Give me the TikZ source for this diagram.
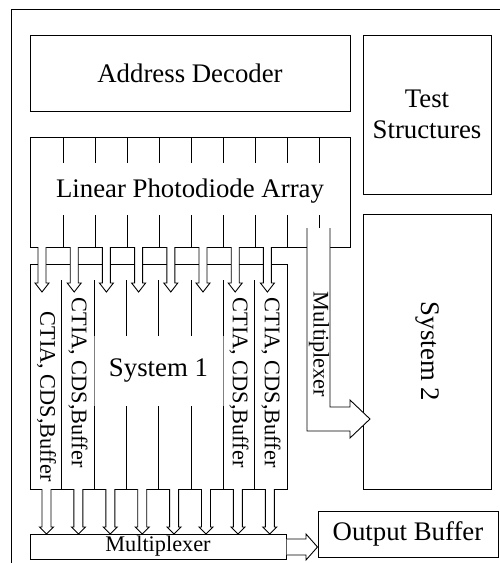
\documentclass[tikz,border=0pt]{standalone}
\usepackage{fontspec}
\setmainfont{Liberation Serif}
\begin{document}
\begin{tikzpicture}[x=1pt,y=-1pt,line join=miter,
  box/.style={draw,line width=1pt,inner sep=0pt},
  big/.style={font=\fontsize{26.8}{33}\selectfont},
  small/.style={font=\fontsize{22.3}{26}\selectfont},
  hollow/.style={draw,line width=0.9pt,fill=white},
  sep/.style={line width=1pt}]
\useasboundingbox (0,0) rectangle (499,563);
\fill[white] (0,0) rectangle (499,563);

% chip outline (runs off the right and bottom)
\draw[line width=1pt] (11,566) -- (11,9) -- (502,9);

% top row
\node[box,minimum width=320pt,minimum height=76pt] (dec) at (190,73) {};
\node[big] (dect) at (dec.center) {Address Decoder};
\node[box,minimum width=128pt,minimum height=159pt] (test) at (427,114.5) {};
\node[big,align=center] (testt) at (test.center) {Test\\[-2pt]Structures};

% photodiode array with its pixel ticks
\node[box,minimum width=320pt,minimum height=110pt] (lpa) at (190,192) {};
\foreach \k in {0,...,8}{
  \draw[sep] ({63.5+31.95*\k},137) -- ({63.5+31.95*\k},163);
  \draw[sep] ({63.5+31.95*\k},215) -- ({63.5+31.95*\k},247);
}
\node[big] (lpat) at (190,191) {Linear Photodiode Array};

% system 2
\node[box,minimum width=128pt,minimum height=275pt] (sys2) at (427,351.5) {};
\node[big,rotate=-90] (sys2t) at (sys2.center) {System 2};

% system 1 with its readout columns
\node[box,minimum width=257pt,minimum height=225pt] (sys1) at (158.5,376.5) {};
\foreach \x in {61,254}{ \draw[sep] (\x,280) -- (\x,489); }
\foreach \x in {94,223}{
  \draw[sep] (\x,280) -- (\x,336);
  \draw[line width=0.5pt,gray] (\x,336) -- (\x,406);
  \draw[sep] (\x,406) -- (\x,489);
}
\foreach \x in {126,158,191}{
  \draw[sep] (\x,280) -- (\x,336);
  \draw[sep] (\x,406) -- (\x,489);
}
\node[big] (sys1t) at (158.5,371) {System 1};
\node[small,rotate=-90] (col1) at (46.5,396.5) {CTIA, CDS,Buffer};
\node[small,rotate=-90] (col2) at (78,382.5) {CTIA, CDS,Buffer};
\node[small,rotate=-90] (col7) at (239,382.5) {CTIA, CDS,Buffer};
\node[small,rotate=-90] (col8) at (271,382.5) {CTIA, CDS,Buffer};

% array -> columns
\foreach \k in {0,...,7}{
  \pgfmathsetmacro{\c}{42+32.2*\k}
  \filldraw[hollow] (\c-4,247) -- (\c-4,283) -- (\c-7,283) -- (\c,292)
    -- (\c+7,283) -- (\c+4,283) -- (\c+4,247);
}

% output multiplexer and buffer
\node[box,minimum width=256pt,minimum height=25pt] (mux) at (158,546.5) {};
\node[small] (muxt) at (158,546) {Multiplexer};
\node[box,minimum width=180pt,minimum height=46pt] (obuf) at (408,534) {};
\node[big] (obuft) at (obuf.center) {Output Buffer};

% columns -> multiplexer
\foreach \k in {0,...,7}{
  \pgfmathsetmacro{\c}{46.5+31.9*\k}
  \filldraw[hollow] (\c-4.5,489) -- (\c-4.5,527) -- (\c-7,527) -- (\c,534)
    -- (\c+7,527) -- (\c+4.5,527) -- (\c+4.5,489);
}

% multiplexer -> output buffer
\filldraw[hollow] (mux.east |- 0,539) -- (306,539) -- (306,534) -- (obuf.west |- 0,547)
  -- (306,560) -- (306,555) -- (mux.east |- 0,555);

% array multiplexer bending into system 2
\filldraw[hollow] (330,228) -- (330,407) -- (350,407) -- (350,400) -- (370,419)
  -- (350,438) -- (350,431) -- (307,431) -- (307,228);
\node[small,rotate=-90] (mux2t) at (319,344.5) {Multiplexer};
\end{tikzpicture}
\end{document}
